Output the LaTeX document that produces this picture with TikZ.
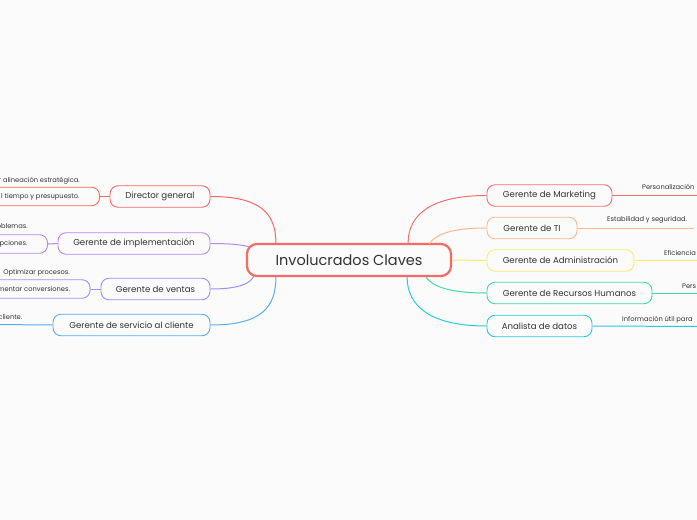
\documentclass[tikz,border=0pt]{standalone}
\usepackage{fontspec}
\setmainfont{Poppins}
\usetikzlibrary{calc}
\definecolor{bgc}{HTML}{FBFBFB}
\definecolor{txt}{HTML}{333333}
\definecolor{cRed}{HTML}{F46A64}
\definecolor{cImpl}{HTML}{BE84EE}
\definecolor{cVen}{HTML}{A28DF3}
\definecolor{cSer}{HTML}{5AAEF2}
\definecolor{cMk}{HTML}{F47070}
\definecolor{cTI}{HTML}{FFB888}
\definecolor{cAd}{HTML}{FAEA72}
\definecolor{cRH}{HTML}{45D8A4}
\definecolor{cAn}{HTML}{2BCADB}
\tikzset{
  topic/.style={draw, rounded corners=8pt, line width=0.9pt, fill=bgc, text=txt,
    font=\fontsize{8.6}{10}\selectfont, inner sep=0pt, minimum height=21.5pt},
  central/.style={draw=cRed, rounded corners=10pt, line width=2.2pt, fill=bgc, text=txt,
    font=\fontsize{14.5}{17}\selectfont, inner sep=0pt, minimum width=204pt, minimum height=32pt},
  subtxt/.style={text=txt, font=\fontsize{6.7}{8}\selectfont, inner sep=0pt},
  subbox/.style={draw, rounded corners=8pt, line width=0.9pt, fill=bgc, text=txt,
    font=\fontsize{6.7}{8}\selectfont, inner ysep=0pt, minimum height=18.5pt, anchor=east},
  conn/.style={line width=1pt},
}
\begin{document}
\begin{tikzpicture}[x=1pt,y=-1pt]
\fill[bgc] (0,0) rectangle (697,520);
\clip (0,0) rectangle (697,520);

% central
\node[central] (ic) at (349,260) {Involucrados Claves};

% left topics
\node[topic, draw=cRed, minimum width=100pt] (dg) at (160,196.5) {Director general};
\node[topic, draw=cImpl, minimum width=152pt] (gi) at (134,243.5) {Gerente de implementación};
\node[topic, draw=cVen, minimum width=109pt] (gv) at (155.5,289) {Gerente de ventas};
\node[topic, draw=cSer, minimum width=157pt] (gs) at (131.5,325) {Gerente de servicio al cliente};

% right topics
\node[topic, draw=cMk, minimum width=125pt] (gm) at (549.5,195.5) {Gerente de Marketing};
\node[topic, draw=cTI, minimum width=90pt] (gt) at (532,228) {Gerente de TI};
\node[topic, draw=cAd, minimum width=147pt] (ga) at (560.5,260.5) {Gerente de Administración};
\node[topic, draw=cRH, minimum width=165pt] (gr) at (569.5,293) {Gerente de Recursos Humanos};
\node[topic, draw=cAn, minimum width=105pt] (gd) at (539.5,326) {Analista de datos};

% connectors centre -> left
\draw[conn, cRed] (dg.east) .. controls (260,196.5) and ($(ic.north west)+(30,-30)$) .. ($(ic.north west)+(30,0)$);
\draw[conn, cImpl] (gi.east) .. controls (232,243.5) and (243,245) .. ($(ic.north west)+(4,4)$);
\draw[conn, cVen] (gv.east) .. controls (238,289) and (250,284) .. ($(ic.south west)+(8,-1)$);
\draw[conn, cSer] (gs.east) .. controls (262,325) and ($(ic.south west)+(30,30)$) .. ($(ic.south west)+(30,0)$);

% connectors centre -> right
\draw[conn, cMk] (gm.west) .. controls (434,195.5) and ($(ic.north east)+(-44,-30)$) .. ($(ic.north east)+(-44,0)$);
\draw[conn, cTI] (gt.west) .. controls (452,228) and (436,234) .. ($(ic.north east)+(-23,1)$);
\draw[conn, cAd] (ic.east) -- (ga.west);
\draw[conn, cRH] (gr.west) .. controls (448,293) and (432,286) .. ($(ic.south east)+(-26,0)$);
\draw[conn, cAn] (gd.west) .. controls (432,326) and ($(ic.south east)+(-45,30)$) .. ($(ic.south east)+(-45,0)$);

% left sub-topics
\node[subtxt, anchor=base east] (dg1) at (80,182.5) {r alineación estratégica.};
\node[subbox, draw=cRed, inner xsep=20pt] (dg2) at (100,196.5) {l tiempo y presupuesto.};
\draw[conn, cRed] (dg2.east) -- (dg.west);

\node[subtxt, anchor=base east] (gi1) at (28,228) {oblemas.};
\node[subbox, draw=cImpl, inner xsep=20pt] (gi2) at (48,244) {pciones.};
\draw[conn, cImpl] (gi2.east) -- (gi.west);

\node[subtxt, anchor=base east] (gv1) at (70,274.5) {Optimizar procesos.};
\node[subbox, draw=cVen, inner xsep=20pt] (gv2) at (90.5,289) {mentar conversiones.};
\draw[conn, cVen] (gv2.east) -- (gv.west);

\node[subtxt, anchor=base east] (gs1) at (22.5,319.5) {cliente.};
\coordinate (gsend) at (-5,324.5);
\draw[conn, cSer] (gs.west) -- (gsend);

% right sub-topics
\coordinate (gmend) at (702,195.5);
\draw[conn, cMk] (gm.east) -- (gmend);
\node[subtxt, anchor=base west] (gm1) at (642,189.5) {Personalización};

\coordinate (gtend) at (694,228);
\draw[conn, cTI] (gt.east) -- (gtend);
\node[subtxt, anchor=base west] (gt1) at (607,221.5) {Estabilidad y seguridad.};

\coordinate (gaend) at (702,260.5);
\draw[conn, cAd] (ga.east) -- (gaend);
\node[subtxt, anchor=base west] (ga1) at (664,255) {Eficiencia};

\coordinate (grend) at (702,293);
\draw[conn, cRH] (gr.east) -- (grend);
\node[subtxt, anchor=base west] (gr1) at (682,288) {Pers};

\coordinate (gdend) at (702,326.5);
\draw[conn, cAn] (gd.east) -- (gdend);
\node[subtxt, anchor=base west] (gd1) at (622,321) {Información útil para};
\end{tikzpicture}
\end{document}
